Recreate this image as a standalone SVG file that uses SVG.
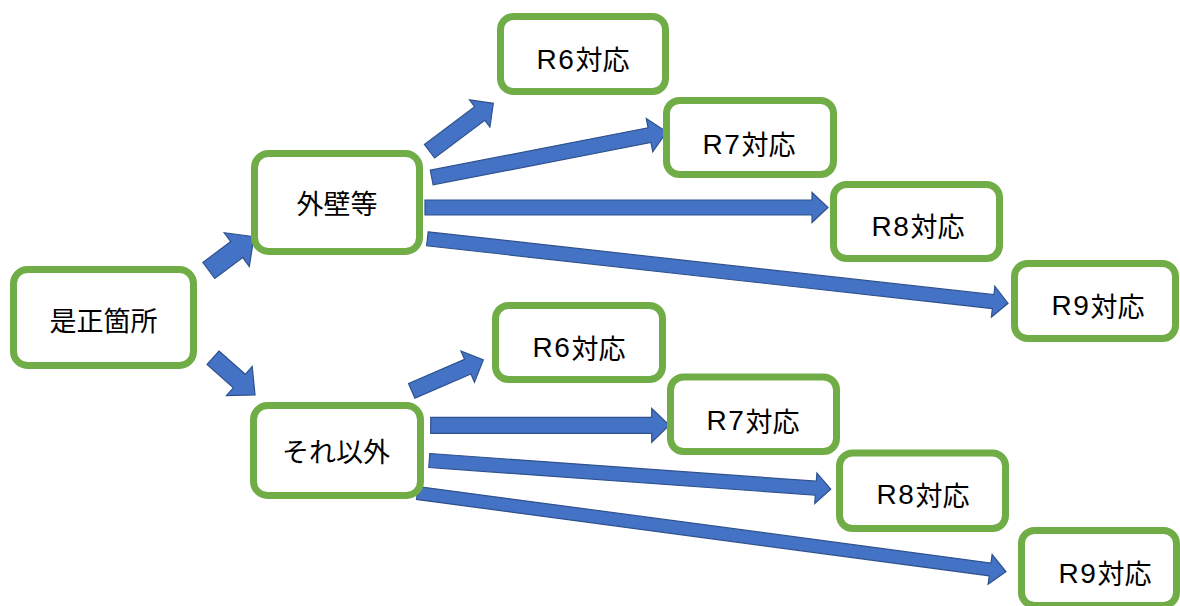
<svg xmlns="http://www.w3.org/2000/svg" width="1180" height="606" viewBox="0 0 1180 606">
<style>
.box{fill:#ffffff;stroke:#70AD47;stroke-width:7}
.arr{fill:#4472C4;stroke:#2F528F;stroke-width:1.2;stroke-linejoin:miter}
.lbl{font-family:"Noto Sans CJK JP","Noto Sans",sans-serif;font-size:27px;fill:#000;text-anchor:middle;dominant-baseline:central}
.lat{font-family:"Liberation Sans","Noto Sans",sans-serif;font-size:28px;letter-spacing:1.5px}
</style>
<rect width="1180" height="606" fill="#ffffff"/>
<g id="connectors">
<path class="arr" transform="translate(208.8,270.5) rotate(-36.8)" d="M0,-10H34.9V-21L56.4,0L34.9,21V10H0Z"/>
<path class="arr" transform="translate(213,357.8) rotate(41.5)" d="M0,-9H35.1V-19.5L56.1,0L35.1,19.5V9H0Z"/>
<path class="arr" transform="translate(429.5,151.2) rotate(-36.9)" d="M0,-8.5H62.8V-17L79.8,0L62.8,17V8.5H0Z"/>
<path class="arr" transform="translate(431.7,177.5) rotate(-11)" d="M0,-7.5H221.9V-17L239.4,0L221.9,17V7.5H0Z"/>
<path class="arr" transform="translate(425,207.5)" d="M0,-7.5H387V-15L403,0L387,15V7.5H0Z"/>
<path class="arr" transform="translate(427.4,238.8) rotate(6.34)" d="M0,-7H569.2V-15.5L584.2,0L569.2,15.5V7H0Z"/>
<path class="arr" transform="translate(411.7,390.8) rotate(-23.3)" d="M0,-8H61V-17L78,0L61,17V8H0Z"/>
<path class="arr" transform="translate(430.7,425.3)" d="M0,-8H221V-17L238.6,0L221,17V8H0Z"/>
<path class="arr" transform="translate(429.3,460.5) rotate(4.1)" d="M0,-7H387.5V-15.3L402.5,0L387.5,15.3V7H0Z"/>
<path class="arr" transform="translate(417.4,493) rotate(7.6)" d="M0,-6.5H577.8V-15L593.8,0L577.8,15V6.5H0Z"/>
</g>
<g id="n-zesei"><rect class="box" x="13.5" y="269.5" width="180" height="96" rx="14"/><text class="lbl" x="103.5" y="319">是正箇所</text></g>
<g id="n-gaiheki"><rect class="box" x="254.5" y="153.5" width="165" height="98" rx="14"/><text class="lbl" x="337" y="202.5">外壁等</text></g>
<g id="n-soreigai"><rect class="box" x="253.5" y="405.5" width="167" height="90" rx="14"/><text class="lbl" x="336" y="450.3">それ以外</text></g>
<g id="n-r6a"><rect class="box" x="500.5" y="16.5" width="165" height="75" rx="13"/><text class="lbl" x="583" y="58.5"><tspan class="lat">R6</tspan>対応</text></g>
<g id="n-r7a"><rect class="box" x="666.5" y="100.5" width="167" height="74" rx="13"/><text class="lbl" x="749" y="143.5"><tspan class="lat">R7</tspan>対応</text></g>
<g id="n-r8a"><rect class="box" x="833.5" y="184.5" width="166" height="74" rx="13"/><text class="lbl" x="918" y="225.7"><tspan class="lat">R8</tspan>対応</text></g>
<g id="n-r9a"><rect class="box" x="1014.5" y="263.5" width="161" height="75" rx="13"/><text class="lbl" x="1098" y="305"><tspan class="lat">R9</tspan>対応</text></g>
<g id="n-r6b"><rect class="box" x="495.5" y="305.5" width="167" height="74" rx="13"/><text class="lbl" x="579" y="347"><tspan class="lat">R6</tspan>対応</text></g>
<g id="n-r7b"><rect class="box" x="670.5" y="377" width="166" height="74.5" rx="13"/><text class="lbl" x="753" y="420"><tspan class="lat">R7</tspan>対応</text></g>
<g id="n-r8b"><rect class="box" x="839.5" y="453" width="166" height="75.5" rx="13"/><text class="lbl" x="923" y="494"><tspan class="lat">R8</tspan>対応</text></g>
<g id="n-r9b"><rect class="box" x="1021.5" y="530.5" width="155" height="75" rx="13"/><text class="lbl" x="1105" y="572.5"><tspan class="lat">R9</tspan>対応</text></g>
</svg>
